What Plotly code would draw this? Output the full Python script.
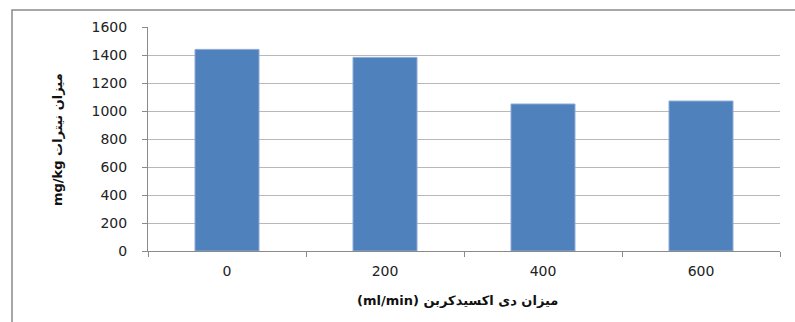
import plotly.graph_objects as go

categories = ["0", "200", "400", "600"]
values = [1440, 1383, 1050, 1071]
y_ticks = [0, 200, 400, 600, 800, 1000, 1200, 1400, 1600]
x_title = "(ml/min) میزان دی اکسیدکربن"
y_title = "mg/kg میزان نیترات"

W, H = 795, 322
L, R, T, B = 148, 15, 27, 71
pw = W - L - R
ph = H - T - B

def px_x(px):
    return (px - L) / pw

def px_y(py):
    return (H - B - py) / ph

fig = go.Figure()
fig.add_trace(go.Bar(
    x=categories, y=values,
    marker=dict(color="#4F81BD", line=dict(color="#8CAAD6", width=1)),
    hoverinfo="x+y",
))

fig.update_layout(
    width=W, height=H,
    margin=dict(l=L, r=R, t=T, b=B, pad=0),
    paper_bgcolor="white", plot_bgcolor="white",
    bargap=0.595,
    showlegend=False,
    font=dict(family="DejaVu Sans", size=14, color="#222222"),
    xaxis=dict(
        type="category",
        showgrid=False,
        showline=True, linecolor="#8a8a8a", linewidth=1,
        ticks="outside", ticklen=5, tickcolor="#8a8a8a",
        tickson="boundaries",
        ticklabelstandoff=7,
        tickfont=dict(family="DejaVu Sans", size=14, color="#222222"),
    ),
    yaxis=dict(
        range=[0, 1600],
        tickvals=y_ticks,
        showgrid=True, gridcolor="#b8b8b8", gridwidth=1,
        showline=True, linecolor="#8a8a8a", linewidth=1,
        ticks="outside", ticklen=5, tickcolor="#8a8a8a",
        ticklabelstandoff=12,
        zeroline=False,
        tickfont=dict(family="DejaVu Sans", size=14, color="#222222"),
    ),
    shapes=[
        dict(type="rect", xref="paper", yref="paper",
             x0=px_x(12), x1=px_x(805), y0=px_y(10), y1=px_y(340),
             line=dict(color="#8a8a8a", width=1.5), layer="below"),
    ],
    annotations=[
        dict(text="<b>" + x_title + "</b>", xref="paper", yref="paper",
             x=px_x(457), y=px_y(300), showarrow=False,
             xanchor="center", yanchor="middle",
             font=dict(family="DejaVu Sans", size=13, color="#111111")),
        dict(text="<b>" + y_title + "</b>", xref="paper", yref="paper",
             x=px_x(57), y=px_y(140), showarrow=False, textangle=-90,
             xanchor="center", yanchor="middle",
             font=dict(family="DejaVu Sans", size=13, color="#111111")),
    ],
)

fig.write_html("out.html")
